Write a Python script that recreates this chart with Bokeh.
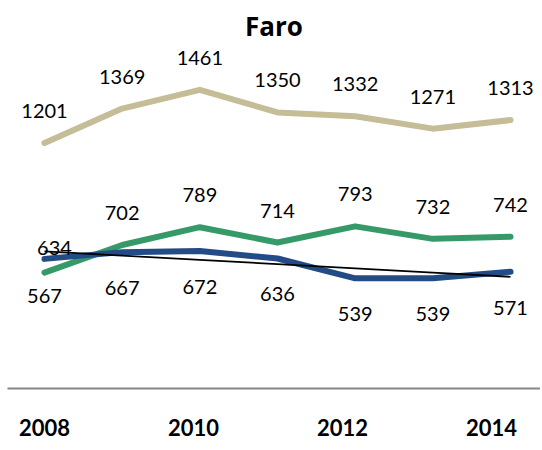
from bokeh.plotting import figure
from bokeh.models import ColumnDataSource, Range1d, LinearAxis, FixedTicker
from bokeh.core.properties import value
from bokeh.embed import file_html
from bokeh.resources import INLINE
import numpy as np

years = [2008, 2009, 2010, 2011, 2012, 2013, 2014]
tan_vals = [1201, 1369, 1461, 1350, 1332, 1271, 1313]
green_vals = [567, 702, 789, 714, 793, 732, 742]
blue_vals = [634, 667, 672, 636, 539, 539, 571]
tick_years = [2008, 2010, 2012, 2014]

TAN = "#C4BD97"
GREEN = "#359A68"
BLUE = "#234C86"
FONT = "Lato"

p = figure(width=540, height=442, output_backend="svg", toolbar_location=None,
           x_axis_type=None, y_axis_type=None,
           x_range=Range1d(2007.5237, 2014.386), y_range=Range1d(0, 1663),
           min_border_left=7, min_border_right=0, min_border_top=0, min_border_bottom=54)
p.title.text = "Faro"
p.title.align = "center"
p.title.offset = 4
p.title.text_font = "Open Sans"
p.title.text_font_size = "26px"
p.title.text_font_style = "bold"
p.title.text_color = "black"
p.grid.visible = False
p.outline_line_color = None
p.background_fill_color = "white"
p.border_fill_color = "white"

p.extra_x_ranges = {"ax": Range1d(2007.503, 2014.658)}
ax = LinearAxis(x_range_name="ax", ticker=FixedTicker(ticks=tick_years))
ax.axis_line_color = "#868686"
ax.axis_line_width = 2
ax.major_tick_line_color = None
ax.minor_tick_line_color = None
ax.major_label_standoff = 24
ax.major_label_text_font = FONT
ax.major_label_text_font_size = "22px"
ax.major_label_text_font_style = "bold"
ax.major_label_text_color = "black"
p.add_layout(ax, "below")

for vals, col in [(tan_vals, TAN), (green_vals, GREEN), (blue_vals, BLUE)]:
    p.line(years, vals, line_color=col, line_width=6, line_join="round", line_cap="round")

# linear trend of the blue series
coef = np.polyfit(years, blue_vals, 1)
trend = np.polyval(coef, years)
p.line(years, trend, line_color="black", line_width=1.8)

def labels(vals, offsets, xoffs=None):
    src = ColumnDataSource(dict(x=years, y=vals, t=[str(v) for v in vals],
                                yo=offsets, xo=xoffs or [0] * len(vals)))
    p.text("x", "y", text="t", source=src, x_offset="xo", y_offset="yo",
           text_align="center", text_baseline="middle",
           text_font=value(FONT), text_font_size="20px", text_color="black")

ABOVE, BELOW = -32, 36
labels(tan_vals, [ABOVE] * 7)
labels(green_vals, [23] + [ABOVE] * 6)
labels(blue_vals, [-11] + [BELOW] * 6, [10, 0, 0, 0, 0, 0, 0])

open("out.html", "w").write(file_html(p, INLINE))
